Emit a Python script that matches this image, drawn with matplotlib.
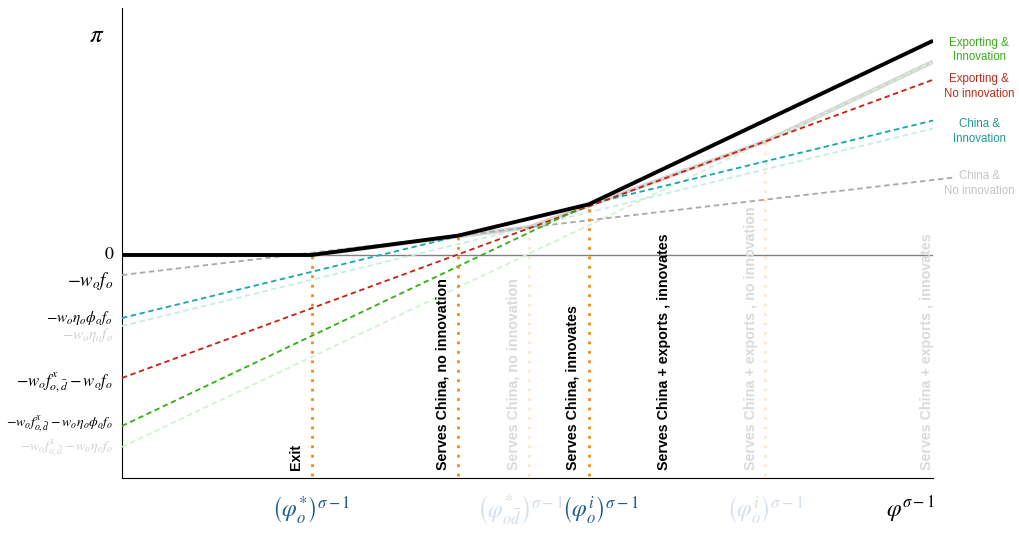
import numpy as np
import matplotlib
matplotlib.use("Agg")
from matplotlib import pyplot as plt

plt.rcParams['mathtext.fontset'] = 'stix'
plt.rcParams['font.family'] = ['Liberation Sans', 'DejaVu Sans']

# profit lines: intercept and slope (arbitrary units)
line_names = ["China, no innov", "China, innov", "China, innov (old)",
              "Export, no innov", "Export, innov", "Export, innov (old)"]
intercepts = [-0.8, -2.52, -2.84, -4.92, -6.84, -7.68]
slopes = [0.38, 0.79, 0.79, 1.193, 1.541, 1.541]
line_end = [10.25, 10.0, 10.0, 10.0, 10.0, 10.0]
line_colors = ["#a8a8a8", "#12a8a8", "#c4ece8", "#c8200e", "#2eb010", "#d4f0d0"]

left_labels = [r"$-w_o f_o$",
               r"$-w_o \eta_o \phi_o f_o$",
               r"$-w_o \eta_o f_o$",
               r"$-w_o f^x_{o,\bar{d}} - w_o f_o$",
               r"$-w_o f^x_{o,\bar{d}} - w_o \eta_o \phi_o f_o$",
               r"$-w_o f^x_{o,\bar{d}} - w_o \eta_o f_o$"]
left_label_colors = ["black", "black", "#d0d0d0", "black", "black", "#d0d0d0"]
left_label_sizes = [13.5, 11, 11, 12, 10, 10]

right_labels = ["Exporting &\nInnovation", "Exporting &\nNo innovation",
                "China &\nInnovation", "China &\nNo innovation"]
right_label_y = [8.2, 6.75, 4.95, 2.85]
right_label_colors = ["#3aae1a", "#c02a18", "#1f9a90", "#c4c4c4"]

# thresholds (cutoff productivities)
thresholds = [2.337, 4.145, 5.756]
thresholds_old = [5.018, 7.934]

env_x = [0, thresholds[0], thresholds[1], thresholds[2], 10.0]
env_old_x = [0, thresholds[0], thresholds_old[0], thresholds_old[1], 10.0]

vtexts = ["Exit", "Serves China, no innovation", "Serves China, no innovation",
          "Serves China, innovates", "Serves China + exports , innovates",
          "Serves China + exports , no innovation", "Serves China + exports , innovates"]
vtext_x = [2.15, 3.95, 4.83, 5.55, 6.68, 7.75, 9.92]
vtext_colors = ["black", "black", "#dadada", "black", "black", "#dadada", "#dadada"]

xlabels = [r"$\left(\varphi^{*}_{o}\right)^{\sigma-1}$",
           r"$\left(\varphi^{*}_{o\bar{d}}\right)^{\sigma-1}$",
           r"$\left(\varphi^{i}_{o}\right)^{\sigma-1}$",
           r"$\left(\varphi^{i}_{o}\right)^{\sigma-1}$",
           r"$\varphi^{\sigma-1}$"]
xlabel_x = [2.337, 4.92, 5.9, 7.934, 9.72]
xlabel_colors = ["#1f5b8e", "#d2dee9", "#1f5b8e", "#d2dee9", "black"]


def line_y(i, x):
    return intercepts[i] + slopes[i] * np.asarray(x)


fig = plt.figure(figsize=(10.19, 5.33), dpi=100)
ax = fig.add_axes([0.1197, 0.1032, 0.7959, 0.8818])
ax.set_xlim(0, 10)
ax.set_ylim(-8.92, 9.88)
ax.set_xticks([])
ax.set_yticks([])
ax.spines['top'].set_visible(False)
ax.spines['right'].set_visible(False)

# zero line
ax.plot([0, 10], [0, 0], color="#808080", lw=1, zorder=2)

# faded envelope (old parameters)
env_old_y = [0, 0, line_y(0, thresholds_old[0]), line_y(3, thresholds_old[1]), line_y(5, 10.0)]
ax.plot(env_old_x, env_old_y, color="#d4d4d4", lw=3, zorder=3, solid_capstyle='butt')

# dashed profit lines
draw_order = [2, 5, 0, 1, 3, 4]
for i in draw_order:
    xs = np.array([0, line_end[i]])
    ax.plot(xs, line_y(i, xs), color=line_colors[i], lw=1.3,
            linestyle=(0, (3, 2)), zorder=4, clip_on=False)

# current envelope
env_y = [0, 0, line_y(0, thresholds[1]), line_y(1, thresholds[2]), line_y(4, 10.0)]
ax.plot(env_x, env_y, color="black", lw=2.8, zorder=6, solid_capstyle='butt')

# vertical threshold lines
for t in thresholds_old:
    top = np.interp(t, env_old_x, env_old_y)
    ax.plot([t, t], [-8.85, top], color="#fde6cc", lw=2, linestyle=(0, (1, 2.4)), zorder=1)
for t in thresholds:
    top = np.interp(t, env_x, env_y)
    ax.plot([t, t], [-8.85, top], color="#f68a10", lw=2, linestyle=(0, (1, 2.4)), zorder=5)

# vertical region labels
for s, x, c in zip(vtexts, vtext_x, vtext_colors):
    ax.text(x, -8.6, s, rotation=90, ha='center', va='bottom', color=c,
            fontsize=10.3, fontweight='bold', zorder=7)

# left labels
ax.text(-0.11, 0, "0", ha='right', va='center', fontsize=13,
        family='STIXGeneral', clip_on=False)
offsets = [-0.25, 0.0, -0.35, -0.2, 0.05, -0.05]
for i in range(len(left_labels)):
    ax.text(-0.11, intercepts[i] + offsets[i], left_labels[i], ha='right', va='center',
            fontsize=left_label_sizes[i], color=left_label_colors[i], clip_on=False)

# right labels
for s, y, c in zip(right_labels, right_label_y, right_label_colors):
    ax.text(10.57, y, s, ha='center', va='center', fontsize=8.3, color=c,
            linespacing=1.3, clip_on=False)

# bottom labels
for s, x, c in zip(xlabels, xlabel_x, xlabel_colors):
    ax.text(x, -10.2, s, ha='center', va='center', fontsize=17, color=c, clip_on=False)

ax.text(-0.31, 8.8, r"$\pi$", ha='center', va='center', fontsize=18, clip_on=False)

fig.savefig("out.png", dpi=100)
